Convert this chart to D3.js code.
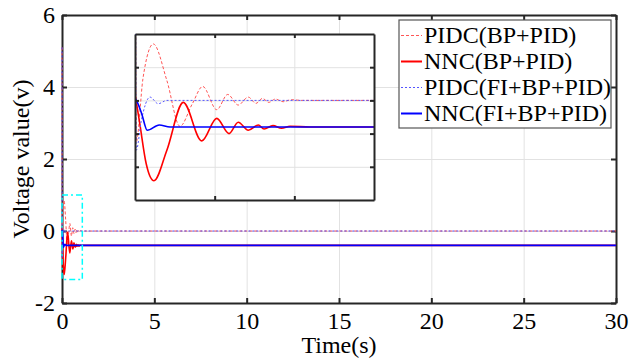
<!DOCTYPE html>
<html><head><meta charset="utf-8">
<script src="https://cdn.jsdelivr.net/npm/d3@7"></script>
<style>
body{margin:0;background:#fff}
svg{display:block}
text{font-family:"Liberation Serif";fill:#000}
</style>
</head><body>
<svg id="c" width="630" height="359"></svg>
<script>
// ---- data ----
const xTicks = [0, 5, 10, 15, 20, 25, 30];
const yTicks = [-2, 0, 2, 4, 6];
const insetXTicks = [0.5, 1.0];
const insetYTicks = [-1, -0.5, 0, 0.5];
const seriesNames = ["PIDC(BP+PID)", "NNC(BP+PID)", "PIDC(FI+BP+PID)", "NNC(FI+BP+PID)"];

// PIDC(BP+PID)
const pidcBpT = [0, 0.008, 0.05, 0.115, 0.2, 0.282, 0.36, 0.425, 0.513, 0.582, 0.648, 0.711, 0.759, 0.8, 0.84, 0.88, 0.93, 0.98, 1.05, 30];
const pidcBpV = [5.1, -0.62, 0.33, 0.85, 0.3, -0.39, -0.05, 0.21, -0.14, 0.09, -0.07, 0.05, -0.045, 0.03, -0.03, 0.02, -0.02, 0.01, 0, 0];
// NNC(BP+PID)
const nncBpT = [0, 0.03, 0.07, 0.119, 0.2, 0.303, 0.419, 0.513, 0.59, 0.648, 0.711, 0.774, 0.81, 0.866, 0.92, 0.973, 1.1, 30];
const nncBpV = [0.1, -0.35, -0.95, -1.21, -0.75, -0.03, -0.61, -0.27, -0.5, -0.33, -0.45, -0.37, -0.43, -0.38, -0.42, -0.39, -0.4, -0.4];
// PIDC(FI+BP+PID)
const pidcFiT = [0, 0.008, 0.04, 0.094, 0.146, 0.2, 30];
const pidcFiV = [5.1, -0.75, -0.3, 0.05, -0.05, 0, 0];
// NNC(FI+BP+PID)
const nncFiT = [0, 0.015, 0.042, 0.077, 0.152, 0.22, 30];
const nncFiV = [0.03, -0.03, -0.2, -0.45, -0.37, -0.4, -0.4];

const seriesColors = ["#ff5555", "#ff0000", "#5555ff", "#0000ff"];
const seriesDash = ["3,2", null, "2,2", null];
const seriesWidth = [1, 1.6, 1, 1.6];

const series = [
  {t: pidcBpT, v: pidcBpV},
  {t: nncBpT, v: nncBpV},
  {t: pidcFiT, v: pidcFiV},
  {t: nncFiT, v: nncFiV}
].map((s, i) => ({
  name: seriesNames[i], color: seriesColors[i], dash: seriesDash[i], w: seriesWidth[i],
  pts: s.t.map((t, j) => [t, s.v[j]])
}));

const zoomBoxX = [0, 1.1], zoomBoxY = [-1.35, 1.0];

// ---- layout ----
const FS = 24;
const svg = d3.select("#c");
const L = 62, R = 616, T = 15, B = 303;
const x = d3.scaleLinear().domain([0, 30]).range([L, R]);
const y = d3.scaleLinear().domain([-2, 6]).range([B, T]);
const axisColor = "#262626", gridColor = "#e2e2e2";

function grid(g, xs, ys, xt, yt, x0, x1, y0, y1) {
  g.append("g").attr("transform", `translate(0,${y0})`)
    .call(d3.axisBottom(xs).tickValues(xt).tickSize(-(y0 - y1)).tickFormat(""))
    .call(s => s.select(".domain").remove())
    .selectAll("line").attr("stroke", gridColor);
  g.append("g").attr("transform", `translate(${x0},0)`)
    .call(d3.axisLeft(ys).tickValues(yt).tickSize(-(x1 - x0)).tickFormat(""))
    .call(s => s.select(".domain").remove())
    .selectAll("line").attr("stroke", gridColor);
}
function frame(g, xs, ys, xt, yt, x0, x1, y0, y1, tick, labels) {
  const fmt = labels ? (d => String(d)) : "";
  const bx = g.append("g").attr("transform", `translate(0,${y0})`)
    .call(d3.axisBottom(xs).tickValues(xt).tickSizeInner(-tick).tickSizeOuter(0).tickPadding(9).tickFormat(fmt));
  const tx = g.append("g").attr("transform", `translate(0,${y1})`)
    .call(d3.axisTop(xs).tickValues(xt).tickSizeInner(-tick).tickSizeOuter(0).tickFormat(""));
  const ly = g.append("g").attr("transform", `translate(${x0},0)`)
    .call(d3.axisLeft(ys).tickValues(yt).tickSizeInner(-tick).tickSizeOuter(0).tickPadding(7).tickFormat(fmt));
  const ry = g.append("g").attr("transform", `translate(${x1},0)`)
    .call(d3.axisRight(ys).tickValues(yt).tickSizeInner(-tick).tickSizeOuter(0).tickFormat(""));
  [bx, tx, ly, ry].forEach(a => {
    a.attr("font-family", "Liberation Serif").attr("font-size", FS);
    a.selectAll("line").attr("stroke", axisColor).attr("stroke-width", 2);
    a.select(".domain").attr("stroke", axisColor).attr("stroke-width", 2);
    a.selectAll("text").attr("fill", "#000");
  });
}
function drawLines(g, xs, ys, clipId) {
  const line = d3.line().x(d => xs(d[0])).y(d => ys(d[1])).curve(d3.curveMonotoneX);
  const lg = g.append("g").attr("clip-path", `url(#${clipId})`);
  series.forEach(s => {
    lg.append("path").attr("d", line(s.pts)).attr("fill", "none")
      .attr("stroke", s.color).attr("stroke-width", s.w)
      .attr("stroke-dasharray", s.dash);
  });
}

const defs = svg.append("defs");
defs.append("clipPath").attr("id", "mainClip").append("rect")
  .attr("x", L - 1.5).attr("y", T).attr("width", R - L + 1.5).attr("height", B - T);

// main
const main = svg.append("g");
grid(main, x, y, xTicks.slice(1, -1), yTicks.slice(1, -1), L, R, B, T);
frame(main, x, y, xTicks, yTicks, L, R, B, T, 5, true);
drawLines(main, x, y, "mainClip");
main.append("rect")
  .attr("x", x(zoomBoxX[0])).attr("y", y(zoomBoxY[1]))
  .attr("width", x(zoomBoxX[1]) - x(zoomBoxX[0])).attr("height", y(zoomBoxY[0]) - y(zoomBoxY[1]))
  .attr("fill", "none").attr("stroke", "#00ffff").attr("stroke-width", 1.5)
  .attr("stroke-dasharray", "6,3,2,3");

// axis titles
svg.append("text").attr("x", (L + R) / 2).attr("y", 353).attr("text-anchor", "middle")
  .attr("font-size", FS).text("Time(s)");
svg.append("text").attr("transform", `translate(29,${(T + B) / 2}) rotate(-90)`)
  .attr("text-anchor", "middle").attr("font-size", FS).text("Voltage value(v)");

// inset
const IL = 135, IR = 374, IT = 34, IB = 200;
const ix = d3.scaleLinear().domain([0, 1.5]).range([IL, IR]);
const iy = d3.scaleLinear().domain([-1.5, 1]).range([IB, IT]);
defs.append("clipPath").attr("id", "insetClip").append("rect")
  .attr("x", IL).attr("y", IT).attr("width", IR - IL).attr("height", IB - IT);
const inset = svg.append("g");
inset.append("rect").attr("x", IL).attr("y", IT).attr("width", IR - IL).attr("height", IB - IT).attr("fill", "#fff");
grid(inset, ix, iy, insetXTicks, insetYTicks, IL, IR, IB, IT);
drawLines(inset, ix, iy, "insetClip");
frame(inset, ix, iy, insetXTicks, insetYTicks, IL, IR, IB, IT, 4, false);

// legend
const lg = svg.append("g");
lg.append("rect").attr("x", 399).attr("y", 20).attr("width", 212).attr("height", 108)
  .attr("fill", "#fff").attr("stroke", "#555").attr("stroke-width", 1.2);
series.forEach((s, i) => {
  const cy = 35.5 + i * 26;
  lg.append("line").attr("x1", 401).attr("x2", 422).attr("y1", cy).attr("y2", cy)
    .attr("stroke", s.color).attr("stroke-width", s.w === 1 ? 1.2 : 2).attr("stroke-dasharray", s.dash);
  lg.append("text").attr("x", 424).attr("y", cy).attr("dy", "0.33em").attr("font-size", FS).text(s.name);
});
</script>
</body></html>
